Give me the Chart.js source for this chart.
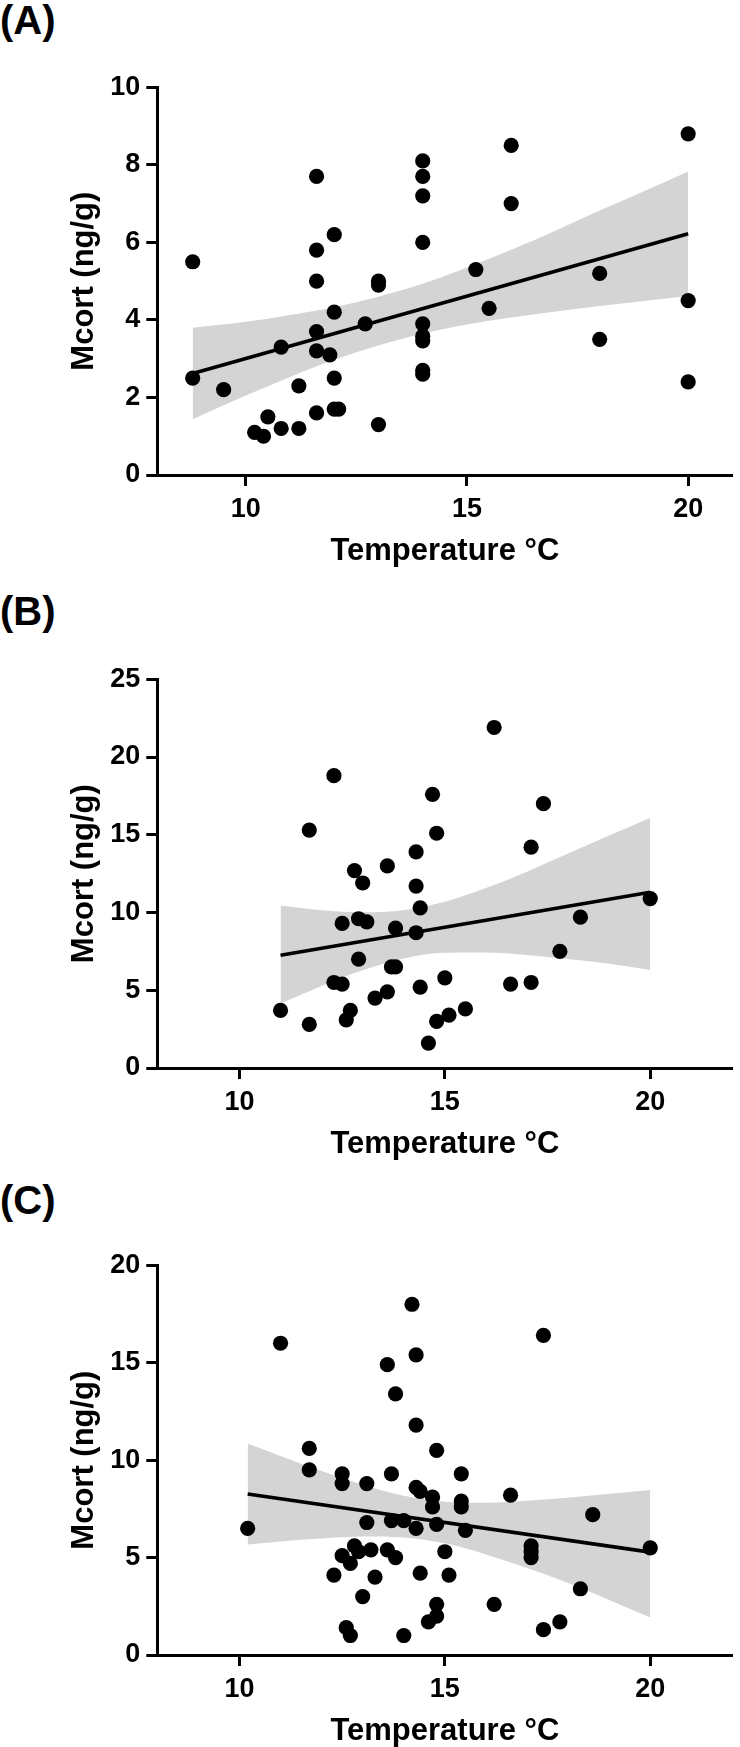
<!DOCTYPE html>
<html><head><meta charset="utf-8">
<script src="https://cdn.jsdelivr.net/npm/chart.js@4.4.1/dist/chart.umd.min.js"></script>
<style>
html,body{margin:0;padding:0;background:#fff;width:740px;height:1747px;overflow:hidden;position:relative;}
.lbl{position:absolute;left:0;font:bold 40px 'Liberation Sans',Arial,sans-serif;line-height:40px;color:#000;white-space:nowrap;}
canvas{position:absolute;left:0;}
</style></head><body>
<div class="lbl" style="top:0px">(A)</div>
<div class="lbl" style="top:591px">(B)</div>
<div class="lbl" style="top:1180px">(C)</div>
<canvas id="cA" width="740" height="575" style="top:0px"></canvas>
<canvas id="cB" width="740" height="578" style="top:590px"></canvas>
<canvas id="cC" width="740" height="580" style="top:1175px"></canvas>
<script>
// ---------- Panel A ----------
const aTemp  = [8.8, 8.8, 9.5, 10.2, 10.4, 10.5, 10.8, 10.8, 11.2, 11.2, 11.6, 11.6, 11.6, 11.6, 11.6, 11.6, 11.9, 12.0, 12.0, 12.0, 12.0, 12.1, 12.7, 13.0, 13.0, 13.0, 14, 14, 14, 14, 14, 14, 14, 14, 14, 15.2, 15.5, 16.0, 16.0, 18.0, 18.0, 20, 20, 20];
const aMcort = [5.5, 2.5, 2.2, 1.1, 1.0, 1.5, 3.3, 1.2, 2.3, 1.2, 7.7, 5.8, 5.0, 3.7, 3.2, 1.6, 3.1, 6.2, 4.2, 2.5, 1.7, 1.7, 3.9, 5.0, 4.9, 1.3, 8.1, 7.7, 7.2, 6.0, 3.9, 3.58, 3.46, 2.7, 2.6, 5.3, 4.3, 8.5, 7.0, 5.2, 3.5, 8.8, 4.5, 2.4];
const aFitTemp  = [8.8, 20];
const aFitMcort = [2.62, 6.22];
const aBandTemp  = [8.8, 10, 11, 12, 13, 14, 15, 16, 17, 18, 19, 20];
const aBandUpper = [3.80, 3.95, 4.13, 4.33, 4.60, 4.93, 5.35, 5.81, 6.30, 6.82, 7.32, 7.83];
const aBandLower = [1.44, 2.05, 2.53, 2.97, 3.34, 3.65, 3.88, 4.06, 4.22, 4.36, 4.49, 4.62];
const aYTicks = [0, 2, 4, 6, 8, 10];

// ---------- Panel B ----------
const bTemp  = [11.0, 11.7, 11.7, 12.3, 12.3, 12.5, 12.5, 12.6, 12.7, 12.8, 12.9, 12.9, 13.0, 13.1, 13.3, 13.6, 13.6, 13.7, 13.8, 13.8, 14.3, 14.3, 14.3, 14.4, 14.4, 14.6, 14.7, 14.8, 14.8, 15.0, 15.1, 15.5, 16.2, 16.6, 17.1, 17.1, 17.4, 17.8, 18.3, 20.0];
const bMcort = [3.7, 15.3, 2.8, 18.8, 5.5, 9.3, 5.4, 3.1, 3.7, 12.7, 9.6, 7.0, 11.9, 9.4, 4.5, 13.0, 4.9, 6.5, 6.5, 9.0, 13.9, 11.7, 8.7, 10.3, 5.2, 1.6, 17.6, 15.1, 3.0, 5.8, 3.4, 3.8, 21.9, 5.4, 14.2, 5.5, 17.0, 7.5, 9.7, 10.9];
const bFitTemp  = [11, 20];
const bFitMcort = [7.25, 11.3];
const bBandTemp  = [11, 12, 13, 14, 15, 16, 17, 18, 19, 20];
const bBandUpper = [10.45, 10.15, 10.02, 10.15, 10.69, 11.57, 12.63, 13.79, 14.95, 16.1];
const bBandLower = [4.15, 5.28, 6.29, 7.05, 7.41, 7.43, 7.27, 7.01, 6.70, 6.3];
const bYTicks = [0, 5, 10, 15, 20, 25];

// ---------- Panel C ----------
const cTemp  = [10.2, 11.0, 11.7, 11.7, 12.5, 12.5, 12.3, 12.5, 12.6, 12.7, 12.7, 12.8, 12.9, 13.0, 13.1, 13.1, 13.2, 13.3, 13.6, 13.6, 13.7, 13.7, 13.8, 13.8, 14.0, 14.0, 14.2, 14.3, 14.3, 14.3, 14.4, 14.3, 14.4, 14.6, 14.7, 14.7, 14.8, 14.8, 14.8, 14.8, 15.0, 15.1, 15.4, 15.4, 15.4, 15.5, 16.2, 16.6, 17.1, 17.1, 17.1, 17.4, 17.4, 17.8, 18.3, 18.6, 20.0];
const cMcort = [6.5, 16.0, 10.6, 9.5, 9.3, 8.8, 4.1, 5.1, 1.4, 1.0, 4.7, 5.6, 5.3, 3.0, 8.8, 6.8, 5.4, 4.0, 14.9, 5.4, 9.3, 6.9, 13.4, 5.0, 1.0, 6.9, 18.0, 15.4, 11.8, 8.6, 8.4, 6.5, 4.2, 1.7, 8.1, 7.6, 2.6, 2.0, 10.5, 6.7, 5.3, 4.1, 9.3, 7.9, 7.6, 6.4, 2.6, 8.2, 5.6, 5.3, 5.0, 16.4, 1.3, 1.7, 3.4, 7.2, 5.5];
const cFitTemp  = [10.2, 20];
const cFitMcort = [8.26, 5.28];
const cBandTemp  = [10.2, 11, 12, 13, 14, 15, 16, 17, 18, 19, 20];
const cBandUpper = [10.85, 10.21, 9.44, 8.74, 8.17, 7.87, 7.82, 7.92, 8.07, 8.27, 8.47];
const cBandLower = [5.67, 5.83, 5.98, 6.08, 6.03, 5.73, 5.16, 4.46, 3.69, 2.82, 1.92];
const cYTicks = [0, 5, 10, 15, 20];

const xTickValues = [10, 15, 20];
const xTitle = 'Temperature °C';
const yTitle = 'Mcort (ng/g)';

const FONT = "'Liberation Sans', Arial, Helvetica, sans-serif";
Chart.defaults.font.family = FONT;
Chart.defaults.color = '#000';

function pts(xs, ys) { return xs.map((x, i) => ({ x: x, y: ys[i] })); }

function makeChart(id, d) {
  new Chart(document.getElementById(id), {
    type: 'scatter',
    data: {
      datasets: [
        { data: pts(d.temp, d.mcort), backgroundColor: '#000', borderWidth: 0,
          pointRadius: 7.6, pointHoverRadius: 7.6, showLine: false, clip: false },
        { type: 'line', data: pts(d.fitT, d.fitY), borderColor: '#000', borderWidth: 3.6,
          pointRadius: 0, fill: false, tension: 0, clip: false },
        { type: 'line', data: pts(d.bandT, d.lower), borderWidth: 0, borderColor: 'rgba(0,0,0,0)',
          pointRadius: 0, fill: false, tension: 0.4, cubicInterpolationMode: 'monotone' },
        { type: 'line', data: pts(d.bandT, d.upper), borderWidth: 0, borderColor: 'rgba(0,0,0,0)',
          pointRadius: 0, fill: '-1', backgroundColor: '#d4d4d4', tension: 0.4, cubicInterpolationMode: 'monotone' }
      ]
    },
    options: {
      responsive: false, animation: false, devicePixelRatio: 1,
      layout: { padding: { top: d.padTop, right: 0, bottom: 0, left: 0 } },
      plugins: { legend: { display: false }, tooltip: { enabled: false }, title: { display: false } },
      scales: {
        x: {
          type: 'linear', min: 8, max: d.xMax,
          afterBuildTicks: s => { s.ticks = xTickValues.map(v => ({ value: v })); },
          afterFit: s => { s.height = 100; },
          border: { display: true, width: 3, color: '#000' },
          grid: { drawOnChartArea: false, drawTicks: true, tickLength: 11, tickWidth: 3, tickColor: '#000' },
          ticks: { padding: 7, font: { size: 27, weight: 'bold' }, color: '#000', maxRotation: 0 },
          title: { display: true, text: xTitle, font: { size: 31, weight: 'bold' }, color: '#000',
                   padding: { top: 0, bottom: 4.5 } }
        },
        y: {
          type: 'linear', min: 0, max: d.yMax,
          afterBuildTicks: s => { s.ticks = d.yTicks.map(v => ({ value: v })); },
          afterFit: s => { s.width = 157.3; },
          border: { display: true, width: 3, color: '#000' },
          grid: { drawOnChartArea: false, drawTicks: true, tickLength: 11, tickWidth: 3, tickColor: '#000' },
          ticks: { padding: 6, font: { size: 27, weight: 'bold' }, color: '#000' },
          title: { display: true, text: yTitle, font: { size: 31, weight: 'bold' }, color: '#000',
                   padding: { top: 65.4, bottom: 0 } }
        }
      }
    }
  });
}

makeChart('cA', { temp: aTemp, mcort: aMcort, fitT: aFitTemp, fitY: aFitMcort, bandT: aBandTemp,
  upper: aBandUpper, lower: aBandLower, yTicks: aYTicks, yMax: 10, xMax: 21, padTop: 87.3 });
makeChart('cB', { temp: bTemp, mcort: bMcort, fitT: bFitTemp, fitY: bFitMcort, bandT: bBandTemp,
  upper: bBandUpper, lower: bBandLower, yTicks: bYTicks, yMax: 25, xMax: 22, padTop: 89.3 });
makeChart('cC', { temp: cTemp, mcort: cMcort, fitT: cFitTemp, fitY: cFitMcort, bandT: cBandTemp,
  upper: cBandUpper, lower: cBandLower, yTicks: cYTicks, yMax: 20, xMax: 22, padTop: 90.3 });
</script>
</body></html>
